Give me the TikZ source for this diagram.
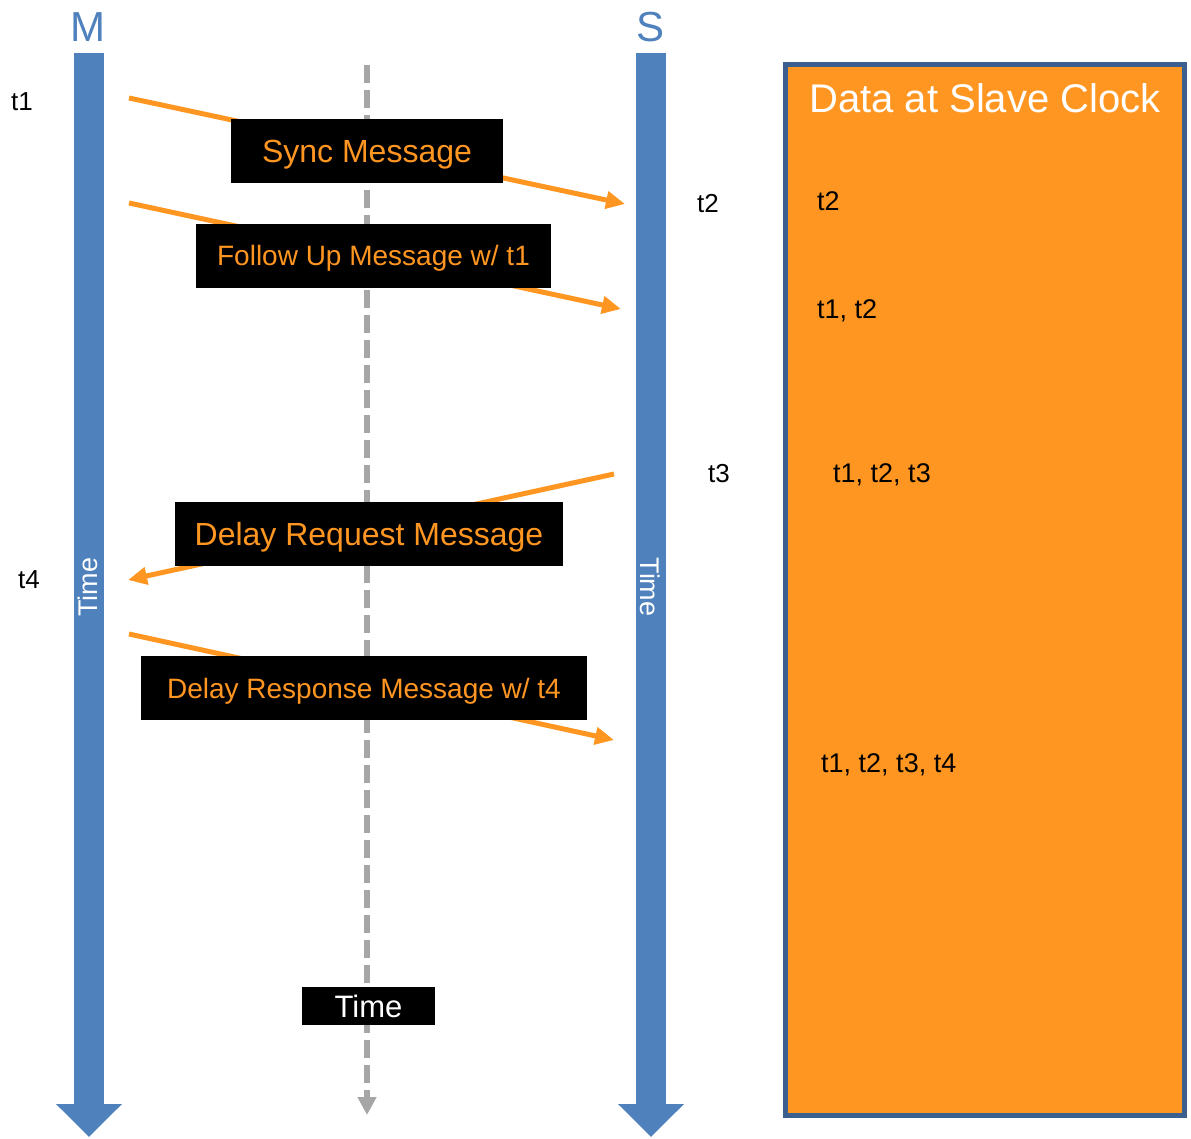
\documentclass[tikz,border=0pt]{standalone}
\usepackage{fontspec}
\setmainfont{Liberation Sans}
\usetikzlibrary{arrows.meta}

\definecolor{barblue}{HTML}{4F81BD}
\definecolor{msgorange}{HTML}{FF9621}
\definecolor{boxedge}{HTML}{3B5F8E}
\definecolor{axisgray}{HTML}{A6A6A6}

\tikzset{
  fs/.style={font=\fontsize{#1}{#1}\selectfont},
  % text box holds only the cap height, so the node centre is the caps' centre
  captext/.style={text height=#1, text depth=0pt, inner sep=0pt},
  timebar/.style={barblue, line width=30pt,
    -{Triangle[length=33pt, width=64pt]}},
  msgarrow/.style={msgorange, line width=5pt,
    -{Triangle[length=19pt, width=17pt]}},
  msgbox/.style={fill=black, text=msgorange, minimum height=64pt},
  tlabel/.style={fs=26, anchor=base, inner sep=0pt},
  datalabel/.style={fs=27, anchor=base west, inner sep=0pt},
}

\begin{document}
\begin{tikzpicture}[x=1pt, y=-1pt]
\useasboundingbox (0,0) rectangle (1191,1139);

% data box on the right
\node[draw=boxedge, line width=5pt, fill=msgorange, inner sep=0pt, outer sep=0pt,
      minimum width=399.5pt, minimum height=1050pt, anchor=north west]
      (slavebox) at (785,65) {};

% clock time lines
\coordinate (Mtop) at (89,53);
\coordinate (Mend) at (89,1137);
\coordinate (Stop) at (651,53);
\coordinate (Send) at (651,1137);
\draw[timebar] (Mtop) -- (Mend);
\draw[timebar] (Stop) -- (Send);

\node[fs=42, text=barblue, anchor=base, inner sep=0pt] (Mlab) at (88,42) {M};
\node[fs=42, text=barblue, anchor=base, inner sep=0pt] (Slab) at (650,42) {S};

\node[fs=27, text=white, captext=19.3pt, rotate=90] (Mtime) at (88,587) {Time};
\node[fs=27, text=white, captext=19.3pt, rotate=-90] (Stime) at (650,587) {Time};

% global time axis
\coordinate (Gtop) at (367,65);
\coordinate (Gend) at (367,1115);
\draw[axisgray, line width=6pt, dash pattern=on 18pt off 7pt,
      -{Triangle[length=18pt, width=18pt]}] (Gtop) -- (Gend);

% message endpoints
\coordinate (syncA) at (129,98);
\coordinate (syncB) at (625,204);
\coordinate (fupA) at (129,203);
\coordinate (fupB) at (621,309);
\coordinate (reqA) at (614,474);
\coordinate (reqB) at (128,580);
\coordinate (rspA) at (129,634);
\coordinate (rspB) at (614,740);

\draw[msgarrow] (syncA) -- (syncB);
\draw[msgarrow] (fupA) -- (fupB);
\draw[msgarrow] (reqA) -- (reqB);
\draw[msgarrow] (rspA) -- (rspB);

% message labels
\node[msgbox, fs=32, captext=22.9pt, minimum width=272pt] (sync) at (367,151) {Sync Message};
\node[msgbox, fs=28, captext=20pt, minimum width=355pt] (fup) at (373.5,256) {Follow Up Message w/ t1};
\node[msgbox, fs=32, captext=22.9pt, minimum width=388pt] (req) at (369,534) {Delay Request Message};
\node[msgbox, fs=28, captext=20pt, minimum width=446pt] (rsp) at (364,688) {Delay Response Message w/ t4};

\node[fill=black, text=white, fs=31, captext=22.2pt, minimum width=133pt,
      minimum height=38pt] (gtime) at (368.5,1006) {Time};

% timestamps
\node[tlabel] (t1) at (22,111) {t1};
\node[tlabel] (t2) at (708,213) {t2};
\node[tlabel] (t3) at (719,482) {t3};
\node[tlabel] (t4) at (29,588) {t4};

% data held by the slave clock
\node[fs=40, text=white, anchor=base, inner sep=0pt] (dtitle) at (985,113) {Data at Slave Clock};
\node[datalabel] (d1) at (817,211) {t2};
\node[datalabel] (d2) at (817,319) {t1, t2};
\node[datalabel] (d3) at (833,482) {t1, t2, t3};
\node[datalabel] (d4) at (821,772) {t1, t2, t3, t4};
\end{tikzpicture}
\end{document}
